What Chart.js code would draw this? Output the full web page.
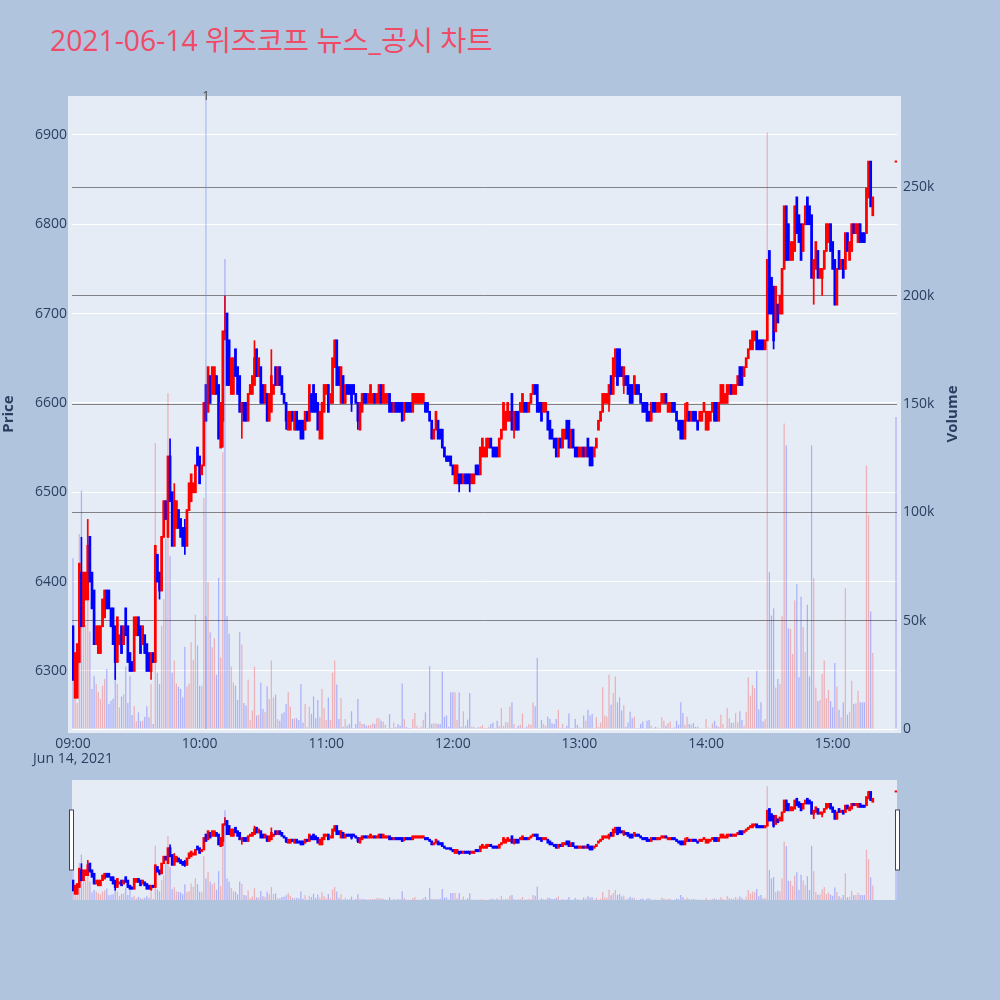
<!DOCTYPE html>
<html>
<head>
<meta charset="utf-8">
<script src="https://cdn.jsdelivr.net/npm/chart.js@4/dist/chart.umd.min.js"></script>
<style>
    body { margin: 0; width: 1000px; height: 1000px; background: #B0C4DE; position: relative; overflow: hidden; }
    #title { position: absolute; left: 50px; top: 18px; font: 28.3px "Open Sans", "Noto Sans CJK KR", sans-serif; color: #EF4B67; white-space: nowrap; }
    #mainChart { position: absolute; left: 0; top: 0; }
    #sliderChart { position: absolute; left: 0; top: 775px; }
</style>
</head>
<body>
<div id="title">2021-06-14 위즈코프 뉴스_공시 차트</div>
<canvas id="mainChart" width="1000" height="775"></canvas>
<canvas id="sliderChart" width="1000" height="225"></canvas>

<script>
    // one entry per minute from 09:00, null where there was no trade
    var opens = [
        6350,6270,6270,6310,6410,6350,6380,6380,6450,6410,
        6390,6330,6320,6320,6350,6360,6390,6390,6370,6370,
        6350,6310,6330,6350,6330,6370,6350,6320,6310,6300,
        6340,6360,6350,6330,6340,6330,6320,6300,6320,6310,
        6430,6410,6390,6450,6490,6450,6540,6500,6440,6460,
        6480,6470,6460,6460,6440,6480,6490,6500,6500,6550,
        6540,6520,6530,6620,6590,6630,6610,6610,6630,6620,
        6550,6580,6680,6700,6670,6610,6610,6660,6640,6630,
        6590,6600,6600,6580,6610,6610,6620,6660,6630,6640,
        6620,6600,6610,6580,6590,6610,6640,6620,6640,6630,
        6610,6600,6570,6570,6590,6570,6590,6580,6580,6580,
        6570,6590,6580,6610,6620,6610,6600,6560,6560,6590,
        6610,6620,6600,6600,6640,6670,6640,6600,6630,6600,
        6620,6620,6620,6620,6610,6600,6570,6590,6610,6610,
        6600,6600,6600,6610,6600,6600,6620,6600,6600,6600,
        6610,6600,6590,6600,6600,6600,6600,6590,6600,6600,
        6600,6590,6600,6600,6600,6600,6600,6600,6600,6590,
        6580,6560,6570,6580,6570,6570,6550,6540,6540,6540,
        6530,6510,6510,6520,6520,6510,6520,6520,6520,6510,
        6510,6530,6530,6520,6540,6540,6540,6550,6560,6550,
        6550,6550,6540,6560,6570,6570,6580,6580,6610,6570,
        6590,6590,6590,6590,6600,6600,6590,6600,6610,6620,
        6620,6600,6600,6590,6590,6590,6580,6570,6560,6560,
        6540,6560,6550,6560,6580,6580,6550,6570,6550,6550,
        6540,6540,6550,6540,6560,6550,6550,6540,6550,6570,
        6580,6590,6600,6600,6600,6630,6610,6630,6660,6660,
        6640,6620,6630,6630,6620,6620,6610,6620,6620,6610,
        6600,6600,6600,6590,6580,6600,6600,6590,6590,6600,
        6600,6610,6590,6590,6600,6600,6590,6580,6580,6580,
        6560,6580,6590,6580,6590,6590,6580,6580,6580,6590,
        6570,6570,6580,6590,6600,6600,6580,6600,6600,6600,
        6600,6610,6620,6610,6610,6620,6640,6640,6630,6640,
        6650,6660,6660,6670,6680,6670,6670,6670,6660,6670,
        6770,6740,6730,6680,6710,6700,6700,6750,6820,6800,
        6760,6760,6770,6830,6810,6800,6770,6800,6830,6820,
        6810,6740,6750,6770,6740,6740,6750,6770,6780,6800,
        6780,6760,6710,6770,6750,6760,6750,6790,6760,6770,
        6800,6790,6780,6800,6790,6790,6790,6830,6870,6810,
        null,null,null,null,null,null,null,null,null,null,
        6870
    ];
    var closes = [
        6290,6320,6330,6420,6350,6410,6410,6440,6400,6370,
        6330,6350,6350,6350,6380,6390,6370,6370,6350,6330,
        6310,6360,6340,6320,6350,6340,6310,6300,6300,6360,
        6360,6340,6320,6350,6320,6300,6300,6320,6310,6440,
        6400,6390,6450,6490,6470,6540,6490,6440,6490,6490,
        6460,6450,6440,6440,6480,6510,6520,6510,6530,6530,
        6510,6530,6600,6580,6640,6600,6640,6640,6610,6560,
        6600,6680,6680,6620,6620,6650,6650,6630,6610,6590,
        6600,6580,6580,6610,6620,6630,6650,6630,6650,6600,
        6600,6620,6580,6610,6630,6620,6620,6640,6620,6610,
        6600,6580,6590,6590,6580,6590,6570,6570,6560,6560,
        6590,6580,6620,6590,6590,6590,6570,6590,6600,6620,
        6620,6590,6610,6650,6670,6620,6620,6640,6600,6620,
        6610,6610,6600,6610,6600,6580,6600,6610,6600,6600,
        6610,6620,6610,6600,6610,6620,6600,6620,6610,6610,
        6590,6590,6600,6590,6590,6590,6580,6600,6590,6590,
        6590,6610,6610,6610,6610,6610,6610,6590,6590,6580,
        6560,6570,6590,6560,6560,6550,6540,6535,6535,6530,
        6520,6530,6530,6510,6510,6520,6510,6510,6510,6520,
        6520,6520,6520,6550,6560,6550,6560,6560,6550,6540,
        6540,6540,6560,6570,6600,6590,6600,6590,6570,6590,
        6570,6570,6600,6610,6590,6590,6600,6610,6620,6610,
        6590,6590,6580,6600,6600,6570,6560,6560,6550,6540,
        6560,6550,6570,6570,6560,6550,6570,6550,6540,6540,
        6550,6550,6540,6550,6540,6530,6530,6550,6560,6580,
        6590,6610,6610,6610,6620,6610,6650,6660,6620,6630,
        6630,6640,6620,6610,6600,6600,6630,6610,6610,6600,
        6590,6590,6580,6580,6600,6590,6590,6600,6600,6610,
        6610,6600,6600,6600,6590,6590,6580,6570,6560,6560,
        6580,6600,6580,6590,6580,6580,6570,6590,6590,6600,
        6590,6590,6590,6600,6580,6580,6600,6620,6620,6610,
        6620,6620,6610,6620,6620,6630,6620,6620,6640,6650,
        6660,6670,6680,6680,6660,6660,6660,6660,6670,6760,
        6700,6700,6670,6730,6690,6720,6750,6820,6760,6760,
        6780,6780,6820,6790,6780,6760,6800,6820,6800,6800,
        6740,6760,6780,6740,6750,6750,6770,6800,6800,6770,
        6750,6710,6750,6750,6760,6740,6790,6770,6780,6800,
        6790,6800,6800,6780,6780,6780,6840,6870,6820,6830,
        null,null,null,null,null,null,null,null,null,null,
        6870
    ];
    var highs = [
        6350,6320,6330,6420,6450,6410,6410,6470,6450,6410,
        6390,6350,6350,6350,6380,6390,6390,6390,6370,6370,
        6350,6360,6340,6350,6350,6370,6350,6320,6310,6360,
        6360,6360,6350,6350,6340,6330,6320,6320,6320,6440,
        6430,6410,6450,6490,6490,6540,6560,6500,6510,6490,
        6480,6470,6460,6470,6480,6510,6520,6510,6530,6550,
        6540,6530,6600,6620,6640,6630,6640,6640,6630,6620,
        6600,6680,6720,6700,6670,6650,6650,6660,6640,6630,
        6600,6600,6600,6610,6620,6630,6670,6660,6650,6640,
        6620,6620,6610,6610,6660,6620,6640,6640,6640,6630,
        6610,6600,6590,6590,6590,6590,6590,6580,6580,6580,
        6590,6590,6620,6610,6620,6610,6600,6590,6600,6620,
        6620,6620,6610,6650,6670,6670,6640,6640,6630,6620,
        6620,6620,6620,6620,6610,6600,6600,6610,6610,6610,
        6610,6620,6610,6610,6610,6620,6620,6620,6610,6610,
        6610,6600,6600,6600,6600,6600,6600,6600,6600,6600,
        6600,6610,6610,6610,6610,6610,6610,6600,6600,6590,
        6580,6570,6590,6580,6570,6570,6550,6540,6540,6540,
        6530,6530,6530,6520,6520,6520,6520,6520,6520,6520,
        6520,6530,6530,6550,6560,6550,6560,6560,6560,6550,
        6550,6550,6560,6570,6600,6590,6600,6590,6610,6590,
        6590,6590,6600,6610,6600,6600,6600,6610,6620,6620,
        6620,6600,6600,6600,6600,6590,6580,6570,6560,6560,
        6560,6560,6570,6570,6580,6580,6570,6570,6550,6550,
        6550,6550,6550,6550,6560,6550,6550,6550,6560,6580,
        6590,6610,6610,6610,6620,6630,6650,6660,6660,6660,
        6640,6640,6630,6630,6620,6620,6630,6620,6620,6610,
        6600,6600,6600,6590,6600,6600,6600,6600,6600,6610,
        6610,6610,6600,6600,6600,6600,6590,6580,6580,6580,
        6600,6600,6590,6590,6590,6590,6580,6590,6590,6600,
        6590,6590,6590,6600,6600,6600,6600,6620,6620,6610,
        6620,6620,6620,6620,6620,6630,6640,6640,6640,6650,
        6660,6670,6680,6680,6680,6670,6670,6670,6670,6760,
        6770,6740,6730,6730,6710,6720,6750,6820,6820,6800,
        6780,6780,6820,6830,6810,6800,6800,6820,6830,6820,
        6810,6760,6780,6770,6750,6750,6770,6800,6800,6800,
        6780,6760,6750,6770,6760,6760,6790,6790,6780,6800,
        6800,6800,6800,6800,6790,6790,6840,6870,6870,6830,
        null,null,null,null,null,null,null,null,null,null,
        6870
    ];
    var lows = [
        6290,6270,6270,6310,6350,6350,6380,6380,6400,6370,
        6330,6330,6320,6320,6350,6360,6370,6370,6350,6330,
        6290,6310,6330,6320,6330,6340,6310,6300,6300,6300,
        6340,6340,6320,6330,6320,6300,6300,6290,6310,6310,
        6400,6380,6390,6450,6470,6450,6490,6440,6440,6460,
        6460,6450,6440,6430,6440,6480,6490,6500,6500,6530,
        6510,6520,6530,6580,6590,6600,6610,6610,6610,6560,
        6550,6550,6670,6620,6620,6610,6610,6630,6610,6590,
        6560,6580,6580,6580,6610,6610,6620,6630,6630,6600,
        6600,6600,6580,6580,6590,6610,6620,6620,6620,6610,
        6600,6570,6570,6570,6580,6570,6570,6570,6560,6560,
        6570,6580,6580,6590,6590,6590,6570,6560,6560,6590,
        6610,6590,6600,6600,6640,6620,6620,6600,6600,6600,
        6610,6610,6590,6610,6600,6570,6570,6590,6600,6600,
        6600,6600,6600,6600,6600,6600,6600,6600,6600,6600,
        6590,6590,6590,6590,6590,6590,6580,6580,6590,6590,
        6590,6590,6600,6600,6600,6600,6600,6590,6590,6580,
        6560,6560,6570,6560,6560,6550,6540,6535,6535,6530,
        6520,6510,6510,6500,6510,6510,6510,6510,6500,6510,
        6510,6520,6520,6520,6540,6540,6540,6550,6550,6540,
        6540,6540,6540,6560,6570,6570,6580,6580,6570,6560,
        6570,6570,6590,6590,6590,6590,6590,6600,6610,6610,
        6590,6590,6580,6590,6590,6570,6560,6560,6550,6540,
        6540,6550,6550,6560,6560,6550,6550,6550,6540,6540,
        6540,6540,6540,6540,6540,6530,6530,6540,6550,6570,
        6580,6590,6600,6600,6590,6610,6610,6630,6620,6630,
        6630,6610,6620,6610,6600,6600,6610,6610,6610,6600,
        6590,6590,6580,6580,6580,6590,6590,6590,6590,6600,
        6600,6600,6590,6590,6590,6590,6580,6570,6560,6560,
        6560,6580,6580,6580,6580,6580,6570,6580,6580,6590,
        6570,6570,6580,6590,6580,6580,6580,6600,6600,6600,
        6600,6610,6610,6610,6610,6620,6620,6620,6630,6640,
        6650,6660,6660,6670,6660,6660,6660,6660,6660,6670,
        6700,6700,6660,6680,6690,6700,6700,6750,6760,6760,
        6760,6760,6770,6790,6780,6760,6770,6800,6800,6800,
        6740,6710,6750,6740,6740,6720,6750,6770,6780,6770,
        6750,6710,6710,6750,6750,6740,6750,6770,6760,6770,
        6790,6790,6780,6780,6780,6780,6790,6830,6820,6810,
        null,null,null,null,null,null,null,null,null,null,
        6870
    ];
    var volumes = [
        79000,14600,12000,90000,110000,47000,48000,60000,45000,18500,
        24600,20800,17000,13900,20000,23100,27700,11500,13000,14000,
        27000,20800,10000,15000,16000,29000,12000,24600,6500,10500,
        3500,7700,3500,3800,5700,10500,5400,20800,2300,132000,
        26000,20800,47700,60000,88000,155000,80000,26000,31600,21000,
        19500,18500,14600,38000,19500,21000,40000,32000,52800,38500,
        20000,20000,106600,52000,67800,44700,37700,42000,25000,69800,
        33000,127800,217000,52000,44000,28800,21500,20000,13400,44700,
        39000,12000,10800,22800,4000,8500,28800,6200,6600,21500,
        9200,7700,19700,13900,31600,14600,15900,4600,3800,7000,
        7700,11500,17000,10300,4600,5000,5000,4200,20800,3000,
        11500,800,10300,7000,15000,5000,13400,5400,18500,9700,
        4200,14600,4200,26000,31600,20500,4600,14300,1000,4600,
        1500,2300,8200,500,2300,13900,3400,2300,2300,1500,
        1800,1800,2600,2300,5000,5000,3800,3400,2000,500,
        6900,500,3000,800,2300,1500,21000,4600,1000,500,
        500,4600,7400,1500,500,1000,4200,7700,500,29000,
        2300,2600,2600,2300,2300,26600,5700,6200,1000,17000,
        17000,17000,4300,16800,1000,8200,1500,4300,16600,1000,
        1000,500,800,1000,1800,500,500,1000,2300,2900,
        500,3800,1400,9700,1500,3200,3000,10300,12300,2300,
        500,1500,2000,7200,500,1000,2300,2000,12300,10500,
        32800,500,4200,2300,1500,5700,4600,2600,2300,4600,
        8900,500,2300,500,1500,7200,500,500,4600,2000,
        800,500,6200,3800,8900,6200,6900,500,5400,1000,
        3000,19300,6200,5700,25100,11200,16600,24200,12300,14600,
        8500,11000,1000,3000,8000,5000,5700,500,500,2300,
        3500,300,3800,4200,1500,400,1000,700,400,5400,
        3800,1500,2600,3500,300,700,3800,2000,12300,7400,
        2000,5700,2300,2000,2800,1000,1000,400,400,400,
        4600,700,400,2600,3800,1500,1000,6600,2300,400,
        9700,5000,2800,3000,7400,3000,8200,4200,1500,8000,
        23900,15400,20300,18900,26900,9000,12300,3500,4600,275400,
        72400,52400,55700,19200,23100,20800,52000,141000,130900,46500,
        46200,34600,59300,67000,23900,61100,47000,35400,57400,24300,
        130900,69600,19200,12800,13400,25400,31600,14200,18000,12800,
        10000,30500,19600,8900,5400,12300,65000,6600,8000,22300,
        11500,11900,17700,12300,12300,12300,121700,99000,54200,35100,
        null,null,null,null,null,null,null,null,null,null,
        144000
    ];

    var timeTicks = [0, 60, 120, 180, 240, 300, 360];
    var timeLabels = [['09:00', 'Jun 14, 2021'], '10:00', '11:00', '12:00', '13:00', '14:00', '15:00'];
    var priceTicks = [6300, 6400, 6500, 6600, 6700, 6800, 6900];
    var volumeTicks = [0, 50000, 100000, 150000, 200000, 250000];
    var volumeLabels = ['0', '50k', '100k', '150k', '200k', '250k'];

    // news count per minute marker
    var newsMinutes = [63];
    var newsCounts = [1];

    var tickColor = '#2a3f5f';
    var upColor = '#FF0000';
    var downColor = '#0000FF';
    var upVolume = 'rgba(255,0,0,0.25)';
    var downVolume = 'rgba(0,0,255,0.25)';

    Chart.defaults.font.family = '"Open Sans", sans-serif';
    Chart.defaults.color = tickColor;

    function candleDatasets(bodyPad) {
        var wicks = [], bodies = [], volBars = [];
        var bodyColors = [], wickColors = [], volColors = [];
        opens.forEach(function (o, i) {
            if (o === null) return;
            var up = closes[i] >= o;
            wicks.push({ x: i, y: [lows[i], highs[i]] });
            // plotly strokes the body outline, so it reaches a little past open and close
            bodies.push({ x: i, y: [Math.min(o, closes[i]) - bodyPad, Math.max(o, closes[i]) + bodyPad] });
            volBars.push({ x: i, y: volumes[i] });
            wickColors.push(up ? upColor : downColor);
            bodyColors.push(up ? upColor : downColor);
            volColors.push(closes[i] > o ? upVolume : downVolume);
        });
        return [
            { type: 'bar', label: 'wick', data: wicks, yAxisID: 'y', grouped: false, order: 3, barPercentage: 1.0, backgroundColor: wickColors },
            { type: 'bar', label: 'body', data: bodies, yAxisID: 'y', grouped: false, order: 2, barPercentage: 1.6, minBarLength: 2, backgroundColor: bodyColors },
            { type: 'bar', label: 'Volume', data: volBars, yAxisID: 'y1', grouped: false, order: 1, barPercentage: 0.75, backgroundColor: volColors }
        ];
    }

    var xRange = { min: -0.47, max: 390.47 };
    var priceRange = { min: 6235, max: 6939 };
    var volumeRange = { min: 0, max: 290400 };

    // plot background is a little bigger than the axes area, like plotly
    var plotBackground = {
        id: 'plotBackground',
        beforeDraw: function (chart) {
            var a = chart.chartArea, pad = chart.canvas.id === 'mainChart' ? 4 : 0;
            chart.ctx.fillStyle = '#E5ECF6';
            chart.ctx.fillRect(a.left - pad, a.top - pad, a.right - a.left + pad * 2, a.bottom - a.top + pad * 2);
        }
    };

    var mainLabels = {
        id: 'mainLabels',
        afterDraw: function (chart) {
            var ctx = chart.ctx;
            ctx.save();
            ctx.fillStyle = tickColor;
            ctx.font = 'bold 15px "Open Sans", sans-serif';
            ctx.textAlign = 'center';
            ctx.textBaseline = 'middle';
            ctx.save();
            ctx.translate(9, 414);
            ctx.rotate(-Math.PI / 2);
            ctx.fillText('Price', 0, 0);
            ctx.restore();
            ctx.save();
            ctx.translate(953, 414);
            ctx.rotate(-Math.PI / 2);
            ctx.fillText('Volume', 0, 0);
            ctx.restore();
            ctx.font = '12px "Open Sans", sans-serif';
            ctx.fillStyle = '#444';
            newsMinutes.forEach(function (m, i) {
                ctx.fillText(String(newsCounts[i]), chart.scales.x.getPixelForValue(m), 97);
            });
            ctx.restore();
        }
    };

    var sliderHandles = {
        id: 'sliderHandles',
        afterDraw: function (chart) {
            var ctx = chart.ctx, a = chart.chartArea;
            ctx.fillStyle = '#fff';
            ctx.strokeStyle = '#444';
            ctx.lineWidth = 1;
            [a.left - 2.5, a.right - 1.5].forEach(function (x) {
                ctx.fillRect(x, a.top + 30, 4, 60);
                ctx.strokeRect(x, a.top + 30, 4, 60);
            });
        }
    };

    var mainDatasets = candleDatasets(1);
    mainDatasets.push({
        type: 'bar', label: 'news', yAxisID: 'y2', grouped: false, order: 0, clip: false,
        barPercentage: 0.7, backgroundColor: 'rgba(90,130,240,0.45)',
        data: newsMinutes.map(function (m, i) { return { x: m, y: newsCounts[i] }; })
    });

    new Chart(document.getElementById('mainChart'), {
        type: 'bar',
        data: { datasets: mainDatasets },
        plugins: [plotBackground, mainLabels],
        options: {
            responsive: false,
            animation: false,
            devicePixelRatio: 1,
            layout: { padding: { left: 0, right: 37, top: 100, bottom: 0 } },
            plugins: { legend: { display: false }, tooltip: { enabled: false } },
            scales: {
                x: {
                    type: 'linear', min: xRange.min, max: xRange.max, offset: false,
                    grid: { display: false, drawTicks: false }, border: { display: false },
                    afterBuildTicks: function (s) { s.ticks = timeTicks.map(function (v) { return { value: v }; }); },
                    afterFit: function (s) { s.height = 46; },
                    ticks: {
                        autoSkip: false, maxRotation: 0, padding: 8,
                        font: { size: 14, lineHeight: 1.05 }, color: tickColor,
                        callback: function (v) { return timeLabels[timeTicks.indexOf(v)]; }
                    }
                },
                y: {
                    position: 'left', min: priceRange.min, max: priceRange.max,
                    border: { display: false },
                    grid: { color: '#ffffff', lineWidth: 1, drawTicks: false },
                    afterBuildTicks: function (s) { s.ticks = priceTicks.map(function (v) { return { value: v }; }); },
                    afterFit: function (s) { s.width = 72; },
                    ticks: { padding: 5, font: { size: 14 }, color: tickColor, callback: function (v) { return String(v); } }
                },
                y1: {
                    position: 'right', min: volumeRange.min, max: volumeRange.max,
                    border: { display: false },
                    grid: {
                        drawTicks: false, lineWidth: 1,
                        color: function (c) { return c.tick && c.tick.value === 0 ? '#ffffff' : 'rgba(60,60,60,0.6)'; }
                    },
                    afterBuildTicks: function (s) { s.ticks = volumeTicks.map(function (v) { return { value: v }; }); },
                    afterFit: function (s) { s.width = 66; },
                    ticks: {
                        padding: 6, font: { size: 14 }, color: tickColor,
                        callback: function (v) { return volumeLabels[volumeTicks.indexOf(v)]; }
                    }
                },
                y2: { display: false, min: 0, max: 0.994 }
            }
        }
    });

    // range slider below shows the same data without axes
    new Chart(document.getElementById('sliderChart'), {
        type: 'bar',
        data: { datasets: candleDatasets(4) },
        plugins: [plotBackground, sliderHandles],
        options: {
            responsive: false,
            animation: false,
            devicePixelRatio: 1,
            layout: { padding: { left: 72, right: 103, top: 5, bottom: 100 } },
            plugins: { legend: { display: false }, tooltip: { enabled: false } },
            scales: {
                x: { type: 'linear', display: false, min: xRange.min, max: xRange.max, offset: false },
                y: { display: false, min: priceRange.min, max: priceRange.max },
                y1: { display: false, min: volumeRange.min, max: volumeRange.max }
            }
        }
    });
</script>
</body>
</html>
